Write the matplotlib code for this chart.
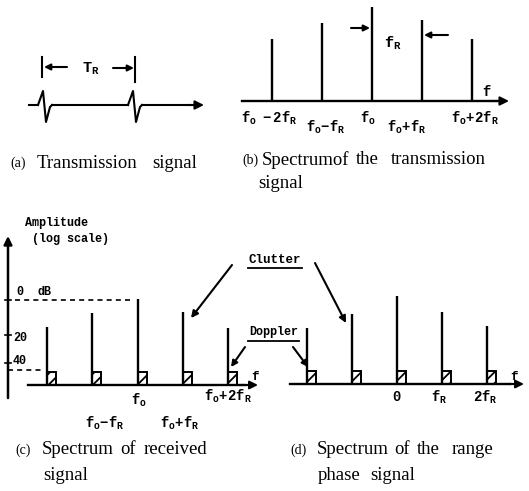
import matplotlib.pyplot as plt
from matplotlib.patches import Rectangle

plt.rcParams['mathtext.fontset'] = 'custom'
plt.rcParams['mathtext.rm'] = 'Liberation Mono:bold'
plt.rcParams['mathtext.it'] = 'Liberation Mono:bold'
plt.rcParams['mathtext.bf'] = 'Liberation Mono:bold'
plt.rcParams['hatch.linewidth'] = 1.3

# harmonic order of each spectral line (multiples of f_R)
orders = [-2, -1, 0, 1, 2]
# line heights above the baseline
amp_tx = [62, 78, 94, 81, 62]      # (b) transmitted spectrum
amp_rx = [58, 72, 86, 73, 57]      # (c) received spectrum
amp_rp = [56, 70, 88, 72, 58]      # (d) range phase signal
doppler_h = 13
doppler_w = 9

labels_tx = [r'$f_o\ \ -2f_R$', r'$f_o\!-\!f_R$', r'$f_o$', r'$f_o\!+\!f_R$', r'$f_o\!+\!2f_R$']
labels_rx = ['', r'$f_o\!-\!f_R$', r'$f_o$', r'$f_o\!+\!f_R$', r'$f_o\!+\!2f_R$']
labels_rp = ['', '', r'$0$', r'$f_R$', r'$2f_R$']

db_labels = ['0', '20', '40']

# transmitted pulse shape (time offset, amplitude) and pulse start times
pulse_t = [0, 5, 8, 12, 14]
pulse_v = [0, 14, -17, -2, 0]
pulse_starts = [38, 128]

MONO = dict(family='Liberation Mono', weight='bold', color='k')
SERIF = dict(family='Liberation Serif', color='k')

fig = plt.figure(figsize=(5.29, 4.91), dpi=100)
ax = fig.add_axes([0, 0, 1, 1])
ax.set_xlim(0, 529)
ax.set_ylim(491, 0)
ax.axis('off')


def arrow(x0, y0, x1, y1, lw=1.5, ms=11):
    ax.annotate('', xy=(x1, y1), xytext=(x0, y0),
                arrowprops=dict(arrowstyle='-|>', color='k', lw=lw,
                                mutation_scale=ms, shrinkA=0, shrinkB=0))


def spectrum(xc, base, step, amps, boxes=False):
    for k, a in zip(orders, amps):
        x = xc + k * step
        ax.plot([x, x], [base, base - a], color='k', lw=1.7, solid_capstyle='butt')
        if boxes:
            ax.add_patch(Rectangle((x, base - doppler_h), doppler_w, doppler_h,
                                   facecolor='white', edgecolor='k', lw=1.4, hatch='///'))


def words(y, items, size=13.5):
    # items: (x, text) pairs, each word placed from its left edge
    for x, w in items:
        ax.text(x, y, w, fontsize=size, va='center', ha='left', **SERIF)


def tag(x, y, t):
    ax.text(x, y, t, fontsize=10, va='center', ha='left', **SERIF)


# (a) transmission signal
base_a = 105
ax.plot([29, pulse_starts[0]], [base_a, base_a], color='k', lw=1.5)
for i, t0 in enumerate(pulse_starts):
    xs = [t0 + t for t in pulse_t]
    ys = [base_a - v for v in pulse_v]
    ax.plot(xs, ys, color='k', lw=1.5)
    end = pulse_starts[i + 1] if i + 1 < len(pulse_starts) else 190
    ax.plot([xs[-1], end], [base_a, base_a], color='k', lw=1.5)
arrow(188, base_a, 204, base_a, ms=13)
ax.plot([42, 42], [57, 77], color='k', lw=1.5)
ax.plot([135, 135], [57, 82], color='k', lw=1.5)
arrow(67, 67, 44, 67, ms=9)
arrow(113, 68, 134, 68, ms=9)
ax.text(91, 69, r'$T_R$', fontsize=11, ha='center', va='center', color='k')
tag(10, 163, '(a)')
words(163, [(37, 'Transmission'), (152, 'signal')])

# (b) spectrum of the transmission signal
base_b = 101
ax.plot([242, 497], [base_b, base_b], color='k', lw=1.7)
arrow(490, base_b, 509, base_b, ms=13)
ax.text(487, 91, r'$f$', fontsize=10, ha='center', va='center')
spectrum(372, base_b, 50, amp_tx)
tx_dx = [-3, 4, -4, -15, 3]
tx_y = [118, 127, 118, 127, 118]
for k, lab, dx, y in zip(orders, labels_tx, tx_dx, tx_y):
    ax.text(372 + k * 50 + dx, y, lab, fontsize=10, ha='center', va='center')
arrow(351, 28, 370, 28, ms=9)
arrow(448, 35, 424, 35, ms=9)
ax.text(393, 43, r'$f_R$', fontsize=11, ha='center', va='center')
tag(242, 160, '(b)')
words(160, [(262, 'Spectrumof'), (356, 'the'), (391, 'transmission')])
words(183, [(258, 'signal')])

# (c) spectrum of received signal
base_c = 385
arrow(8, 398, 8, 236, lw=1.8, ms=12)
for y in [300, 335, 363]:
    ax.plot([5, 11], [y, y], color='k', lw=1.2)
ax.text(25, 223, 'Amplitude', fontsize=8.5, ha='left', va='center', **MONO)
ax.text(32, 239, '(log scale)', fontsize=8.5, ha='left', va='center', **MONO)
ax.text(16, 292, db_labels[0], fontsize=8.5, ha='left', va='center', **MONO)
ax.text(37, 292, 'dB', fontsize=8.5, ha='left', va='center', **MONO)
ax.text(13, 338, db_labels[1], fontsize=8.5, ha='left', va='center', **MONO)
ax.text(13, 361, db_labels[2], fontsize=8.5, ha='left', va='center', **MONO)
ax.plot([15, 130], [300, 300], color='k', lw=1.2, ls=(0, (3, 2.5)))
ax.plot([8, 43], [370, 370], color='k', lw=1.2, ls=(0, (3, 2.5)))
ax.plot([28, 245], [base_c, base_c], color='k', lw=1.7)
arrow(240, base_c, 258, base_c, ms=12)
ax.text(255, 376, r'$f$', fontsize=9, ha='center', va='center')
spectrum(137.5, base_c, 45.3, amp_rx, boxes=True)
rx_dx = [0, 13, 1, -3, 0]
rx_y = [0, 423, 400, 423, 396]
for k, lab, dx, y in zip(orders, labels_rx, rx_dx, rx_y):
    if lab:
        ax.text(137.5 + k * 45.3 + dx, y, lab, fontsize=10, ha='center', va='center')
tag(15, 450, '(c)')
words(450, [(42, 'Spectrum'), (120, 'of'), (144, 'received')])
words(476, [(43, 'signal')])

# (d) spectrum of the range phase signal
base_d = 384
ax.plot([290, 510], [base_d, base_d], color='k', lw=1.7)
arrow(505, base_d, 524, base_d, ms=12)
ax.text(514, 376, r'$f$', fontsize=9, ha='center', va='center')
spectrum(397, base_d, 45, amp_rp, boxes=True)
rp_dx = [0, 0, 0, -3, -2]
for k, lab, dx in zip(orders, labels_rp, rp_dx):
    if lab:
        ax.text(397 + k * 45 + dx, 397, lab, fontsize=10, ha='center', va='center')
tag(290, 450, '(d)')
words(450, [(317, 'Spectrum'), (394, 'of'), (417, 'the'), (452, 'range')])
words(476, [(318, 'phase'), (370, 'signal')])

# annotations shared by (c) and (d)
ax.text(275, 260, 'Clutter', fontsize=9, ha='center', va='center', **MONO)
ax.plot([248, 302], [268, 268], color='k', lw=1.3)
arrow(232, 265, 191, 318, ms=10)
arrow(315, 263, 346, 323, ms=10)
ax.text(274, 332, 'Doppler', fontsize=8.5, ha='center', va='center', **MONO)
ax.plot([248, 299], [341, 341], color='k', lw=1.3)
arrow(245, 347, 231, 367, ms=9)
arrow(293, 347, 308, 367, ms=9)

fig.savefig('out.png', dpi=100)
